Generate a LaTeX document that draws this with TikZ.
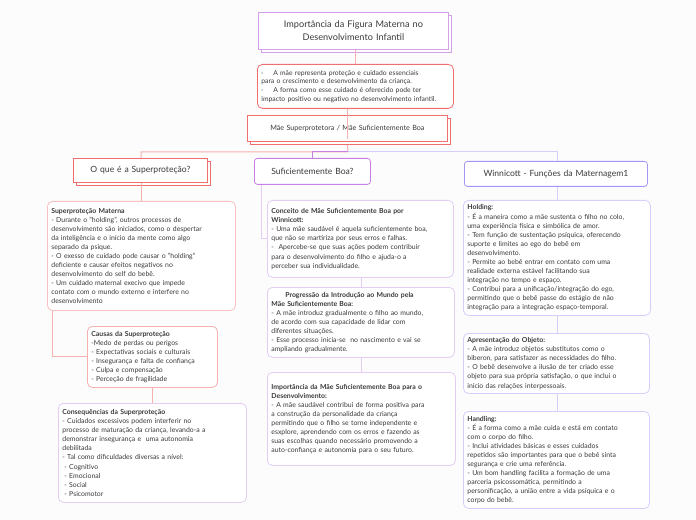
\documentclass[tikz,border=0pt]{standalone}
\usepackage{fontspec}
\setmainfont{Lato}
\usetikzlibrary{positioning}
\usetikzlibrary{shadows}

\definecolor{fundo}{HTML}{FCFCFC}
\definecolor{texto}{HTML}{3A3A3A}
\definecolor{vermelho}{HTML}{F26D6D}
\definecolor{rosa}{HTML}{F6B0B0}
\definecolor{roxo}{HTML}{C77FE3}
\definecolor{roxoclaro}{HTML}{E4CCF3}
\definecolor{lilas}{HTML}{A596F3}
\definecolor{lilasclaro}{HTML}{D6CEFB}

\tikzset{
	every node/.style = {text=texto}
}
\tikzset{
	caixa/.style = {draw, fill=white, rounded corners=5bp, line width=0.8bp, inner sep=4bp,
		anchor=north west, align=left, font=\fontsize{6.9}{9.1}\selectfont},
	topico/.style = {draw, fill=white, rounded corners=3bp, line width=0.8bp, inner sep=3bp,
		anchor=north west, align=center, font=\fontsize{8.6}{11}\selectfont},
	sombra/.style = {copy shadow={shadow xshift=3bp, shadow yshift=-3bp}},
	ligacao/.style = {line width=1bp}
}

\begin{document}
\begin{tikzpicture}[x=1bp, y=-1bp]
        % page and background
        \fill[fundo] (0,0) rectangle (696,520);
        \useasboundingbox (0,0) rectangle (696,520);

        % central topic and its description
        \node[topico, sombra, rounded corners=0bp, draw=roxo!75, text width=184bp, minimum height=37bp,
              font=\fontsize{9.2}{13}\selectfont] (titulo) at (258,12)
              {Importância da Figura Materna no\\ Desenvolvimento Infantil};
        \node[caixa, draw=vermelho, align=left, text width=188bp, minimum height=44bp,
              font=\fontsize{6.8}{8.7}\selectfont] (descricao) at (257,64)
              {·\quad\enspace A mãe representa proteção e cuidado essenciais\\
               para o crescimento e desenvolvimento da criança.\\
               ·\quad\enspace A forma como esse cuidado é oferecido pode ter\\
               impacto positivo ou negativo no desenvolvimento infantil.};
        \node[topico, sombra, rounded corners=0bp, draw=vermelho, text width=194bp, minimum height=26bp,
              font=\fontsize{7.2}{9}\selectfont] (maes) at (247,115)
              {Mãe Superprotetora / Mãe Suficientemente Boa};

        \draw[ligacao, rosa] (titulo.south -| descricao.north) -- (descricao.north);
        \draw[ligacao, rosa] (descricao.south -| maes.south) -- ([yshift=3bp]maes.south);

        % the three branches
        \node[topico, sombra, rounded corners=0bp, draw=vermelho, text width=128bp, minimum height=24bp] (superq) at (73,158)
              {O que é a Superproteção?};
        \node[topico, draw=roxo, text width=110bp, minimum height=26bp] (sufic) at (254,158)
              {Suficientemente Boa?};
        \node[topico, draw=lilas, text width=177bp, minimum height=25bp] (winni) at (464,161)
              {Winnicott - Funções da Maternagem1};

        \coordinate (ramo) at (348,152);
        \coordinate (ramoE) at (141,152);
        \coordinate (ramoM) at (312,152);
        \coordinate (ramoD) at (557,152);
        \draw[ligacao, rosa] ([yshift=-3bp]maes.south) -- (ramo) -- (ramoE) -- (ramoE |- superq.north);
        \draw[ligacao, lilasclaro] (ramo) -- (ramoD) -- (ramoD |- winni.north);
        \draw[ligacao, roxo] (ramo) -- (ramoM) -- (ramoM |- sufic.north);

        % left column
        \node[caixa, draw=rosa!80, text width=180bp, minimum height=109bp] (supmat) at (47,201)
              {\textbf{Superproteção Materna}\\
               - Durante o "holding", outros processos de\\
               desenvolvimento são iniciados, como o despertar\\
               da inteligência e o início da mente como algo\\
               separado da psique.\\
               - O exesso de cuidado pode causar o "holding"\\
               deficiente e causar efeitos negativos no\\
               desenvolvimento do self do bebê.\\
               - Um cuidado maternal execivo que impede\\
               contato com o mundo externo e interfere no\\
               desenvolvimento};
        \node[caixa, draw=rosa, text width=122bp, minimum height=61bp] (causas) at (87,326)
              {\textbf{Causas da Superproteção}\\
               -Medo de perdas ou perigos\\
               - Expectativas sociais e culturais\\
               - Insegurança e falta de confiança\\
               - Culpa e compensação\\
               - Perceção de fragilidade};
        \node[caixa, draw=roxoclaro, text width=180bp, minimum height=99bp] (conseq) at (58,403)
              {\textbf{Consequências da Superproteção}\\
               - Cuidados excessivos podem interferir no\\
               processo de maturação da criança, levando-a a\\
               demonstrar insegurança e \ uma autonomia\\
               debilitada\\
               - Tal como dificuldades diversas a nível:\\
               \hspace*{2bp}- Cognitivo\\
               \hspace*{2bp}- Emocional\\
               \hspace*{2bp}- Social\\
               \hspace*{2bp}- Psicomotor};

        \draw[ligacao, rosa] (ramoE |- superq.south) -- (ramoE |- supmat.north);
        \draw[ligacao, rosa] ([xshift=5bp]supmat.south west) |- (causas.west);
        \draw[ligacao, rosa] ([xshift=65bp]causas.south west) -- ([xshift=65bp]causas.south west |- conseq.north);

        % middle column
        \node[caixa, draw=roxoclaro, text width=178bp, minimum height=77bp] (conceito) at (267,200)
              {\textbf{Conceito de Mãe Suficientemente Boa por}\\
               \textbf{Winnicott:}\\
               - Uma mãe saudável é aquela suficientemente boa,\\
               que não se martiriza por seus erros e falhas.\\
               - \ Apercebe-se que suas ações podem contribuir\\
               para o desenvolvimento do filho e ajuda-o a\\
               perceber sua individualidade.};
        \node[caixa, draw=roxoclaro, text width=179bp, minimum height=70bp] (progressao) at (267,287)
              {\hspace*{14bp}\textbf{Progressão da Introdução ao Mundo pela}\\
               \textbf{Mãe Suficientemente Boa:}\\
               - A mãe introduz gradualmente o filho ao mundo,\\
               de acordo com sua capacidade de lidar com\\
               diferentes situações.\\
               - Esse processo inicia-se \ no nascimento e vai se\\
               ampliando gradualmente.};
        \node[caixa, draw=roxoclaro, text width=180bp, minimum height=93bp] (importancia) at (267,372)
              {\textbf{Importância da Mãe Suficientemente Boa para o}\\
               \textbf{Desenvolvimento:}\\
               - A mãe saudável contribui de forma positiva para\\
               a construção da personalidade da criança\\
               permitindo que o filho se torne independente e\\
               esxplore, aprendendo com os erros e fazendo as\\
               suas escolhas quando necessário promovendo a\\
               auto-confiança e autonomia para o seu futuro.};

        \draw[ligacao, roxoclaro] ([xshift=7bp]sufic.south west) |- (conceito.west);
        \draw[ligacao, roxoclaro] ([xshift=94bp]conceito.south west) -- ([xshift=94bp]conceito.south west |- progressao.north);
        \draw[ligacao, roxoclaro] ([xshift=94bp]progressao.south west) -- ([xshift=94bp]progressao.south west |- importancia.north);

        % right column
        \node[caixa, draw=lilasclaro, text width=179bp, minimum height=115bp] (holding) at (463,200)
              {\textbf{Holding:}\\
               - É a maneira como a mãe sustenta o filho no colo,\\
               uma experiência física e simbólica de amor.\\
               - Tem função de sustentação psíquica, oferecendo\\
               suporte e limites ao ego do bebê em\\
               desenvolvimento.\\
               - Permite ao bebê entrar em contato com uma\\
               realidade externa estável facilitando sua\\
               integração no tempo e espaço.\\
               - Contribui para a unificação/integração do ego,\\
               permitindo que o bebê passe do estágio de não\\
               integração para a integração espaço-temporal.};
        \node[caixa, draw=lilasclaro, text width=178bp, minimum height=60bp] (apresentacao) at (463,333)
              {\textbf{Apresentação do Objeto:}\\
               - A mãe introduz objetos substitutos como o\\
               biberon, para satisfazer as necessidades do filho.\\
               - O bebê desenvolve a ilusão de ter criado esse\\
               objeto para sua própria satisfação, o que inclui o\\
               início das relações interpessoais.};
        \node[caixa, draw=lilasclaro, text width=178bp, minimum height=97bp] (handling) at (463,411)
              {\textbf{Handling:}\\
               - É a forma como a mãe cuida e está em contato\\
               com o corpo do filho.\\
               - Inclui atividades básicas e esses cuidados\\
               repetidos são importantes para que o bebê sinta\\
               segurança e crie uma referência.\\
               - Um bom handling facilita a formação de uma\\
               parceria psicossomática, permitindo a\\
               personificação, a união entre a vida psíquica e o\\
               corpo do bebê.};

        \draw[ligacao, lilasclaro] (ramoD |- winni.south) -- (ramoD |- holding.north);
        \draw[ligacao, lilasclaro] (ramoD |- holding.south) -- (ramoD |- apresentacao.north);
        \draw[ligacao, lilasclaro] (ramoD |- apresentacao.south) -- (ramoD |- handling.north);
\end{tikzpicture}
\end{document}
